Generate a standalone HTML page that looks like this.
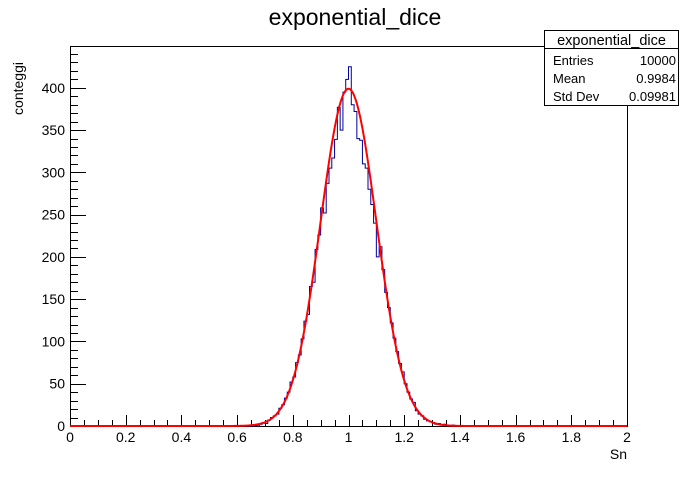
<!DOCTYPE html>
<html><head><meta charset="utf-8"><style>
body{margin:0;background:#fff;}
svg text{font-family:"Liberation Sans",sans-serif;}
</style></head><body>
<svg id="c" width="698" height="474" xmlns="http://www.w3.org/2000/svg">
<text x="355" y="25" font-size="23" text-anchor="middle">exponential_dice</text>
<text x="23" y="62" font-size="14" text-anchor="end" transform="rotate(-90 23 62)">conteggi</text>
<text x="627" y="459" font-size="14" text-anchor="end">Sn</text>
<g id="axes"></g>
<g id="marks"></g>
<g>
<rect x="544.5" y="30.5" width="134" height="75" fill="#fff" stroke="#000"/>
<line x1="544.5" y1="48.5" x2="678.5" y2="48.5" stroke="#000"/>
<text x="611.5" y="45" font-size="14.5" text-anchor="middle">exponential_dice</text>
<text x="553" y="65" font-size="13">Entries</text><text x="676" y="65" font-size="13" text-anchor="end">10000</text>
<text x="553" y="83" font-size="13">Mean</text><text x="676" y="83" font-size="13" text-anchor="end">0.9984</text>
<text x="553" y="101" font-size="13">Std Dev</text><text x="676" y="101" font-size="13" text-anchor="end">0.09981</text>
</g>
</svg>
<script>
const binStart = 0.68;
const binWidth = 0.01;
const counts = [2,4,3,7,10,12,14,21,25,33,40,52,58,75,84,103,124,132,165,170,209,226,258,252,287,305,317,339,377,350,395,410,425,380,372,340,338,310,305,280,262,240,200,212,185,158,140,122,104,88,74,64,50,40,32,28,18,14,12,8,6,5,4,2,3,1,2,1,0,1];
const xTicks = [0,0.2,0.4,0.6,0.8,1,1.2,1.4,1.6,1.8,2];
const yTicks = [0,50,100,150,200,250,300,350,400];
const fitMean = 1.0, fitSigma = 0.1, fitAmp = 399;
const X0=70,X1=627,Y0=426,Y1=46;
const xs=v=>X0+(v-0)/2*(X1-X0);
const ys=v=>Y0-v/449.5*(Y0-Y1);
const NS="http://www.w3.org/2000/svg";
const ax=document.getElementById('axes'), mk=document.getElementById('marks');
function el(t,a,p){const e=document.createElementNS(NS,t);for(const k in a)e.setAttribute(k,a[k]);p.appendChild(e);return e;}
const fr=el('rect',{x:X0+0.5,y:Y1+0.5,width:X1-X0,height:Y0-Y1,fill:'none',stroke:'#000'},ax);


let d='';
for(let v=0;v<=2.0001;v+=0.05){const x=Math.round(xs(v))+0.5;const maj=Math.abs(v/0.2-Math.round(v/0.2))<1e-6;d+=`M${x},${Y0}V${Y0-(maj?11:6)}`;}
for(let v=0;v<=440;v+=10){const y=Math.round(ys(v))+0.5;d+=`M${X0},${y}H${X0+(v%50==0?16:8)}`;}
const tk=el('path',{d:d,stroke:'#000',fill:'none'},ax);


xTicks.forEach(v=>{const t=el('text',{x:xs(v),y:442,'font-size':14,'text-anchor':'middle'},ax);t.textContent=String(v);

});
yTicks.forEach(v=>{const t=el('text',{x:X0-5,y:ys(v)+5,'font-size':14,'text-anchor':'end'},ax);t.textContent=String(v);

});
let h=`M${xs(0)},${ys(0)}H${xs(binStart)}`;
counts.forEach((c,i)=>{const a=binStart+i*binWidth;h+=`V${ys(c)}H${xs(a+binWidth)}`;});
h+=`V${ys(0)}H${xs(2)}`;
const hp=el('path',{d:h,stroke:'#000099',fill:'none','stroke-width':1},mk);


let f='';
for(let i=0;i<=400;i++){const v=i*2/400;const y=fitAmp*Math.exp(-0.5*Math.pow((v-fitMean)/fitSigma,2));f+=(i?'L':'M')+xs(v).toFixed(2)+','+ys(y).toFixed(2);}
const fp=el('path',{d:f,stroke:'#ff0000',fill:'none','stroke-width':2},mk);


</script>
</body></html>
